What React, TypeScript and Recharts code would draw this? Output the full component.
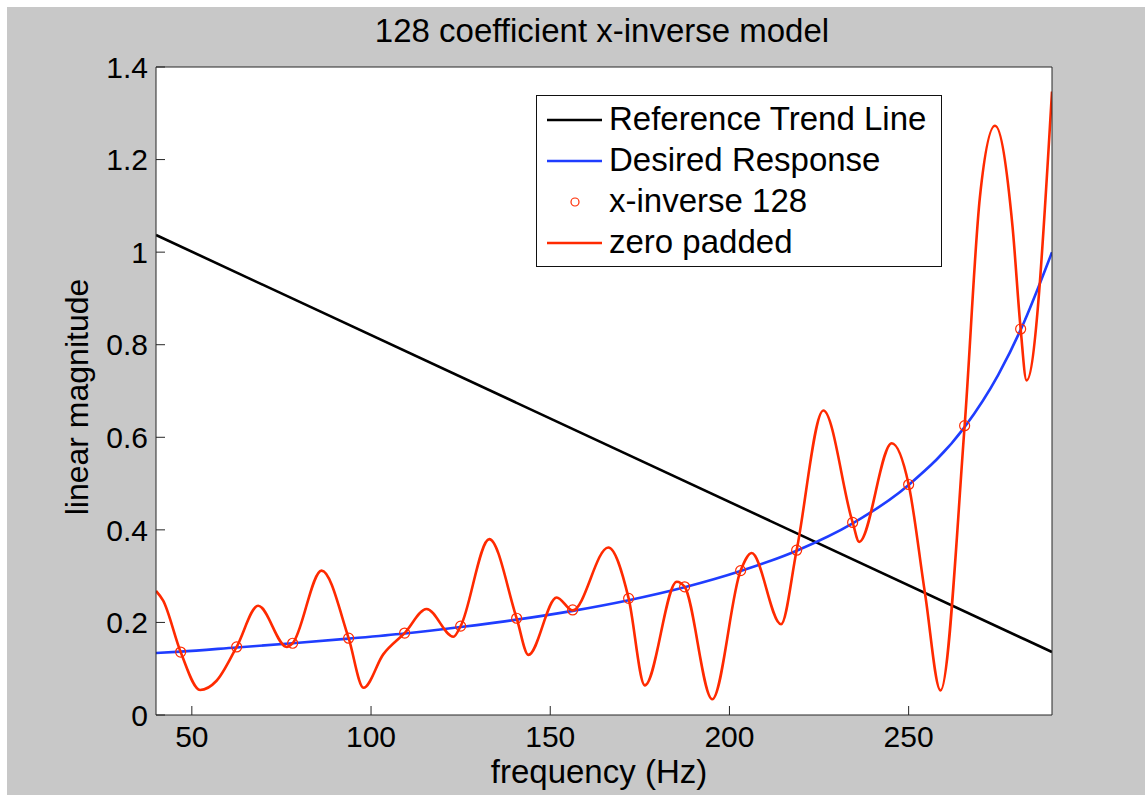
import React from 'react';
import { ComposedChart, Line, Scatter, XAxis, YAxis, CartesianGrid } from 'recharts';

const FONT = '"Liberation Sans", Arial, Helvetica, sans-serif';

const X_TICKS = [50, 100, 150, 200, 250];
const Y_TICKS = [0, 0.2, 0.4, 0.6, 0.8, 1, 1.2, 1.4];

// straight reference trend
const trendFreq = [40, 290];
const trendMag = [1.037, 0.136];

// desired (x-inverse) response
const desiredFreq = [40, 46.875, 62.5, 78.125, 93.75, 109.375, 125, 140.625, 156.25, 171.875, 187.5, 203.125, 218.75, 234.375, 250, 265.625, 275, 281.25, 290];
const desiredMag = [0.134, 0.137, 0.146, 0.155, 0.165, 0.176, 0.19, 0.206, 0.225, 0.248, 0.276, 0.311, 0.355, 0.414, 0.497, 0.622, 0.735, 0.832, 1.0];

// the 128 coefficient samples (circles)
const xinvFreq = [46.875, 62.5, 78.125, 93.75, 109.375, 125, 140.625, 156.25, 171.875, 187.5, 203.125, 218.75, 234.375, 250, 265.625, 281.25];
const xinvMag = [0.136, 0.147, 0.155, 0.166, 0.177, 0.192, 0.209, 0.227, 0.252, 0.277, 0.312, 0.356, 0.416, 0.498, 0.625, 0.834];

// zero padded interpolation
const paddedFreq = [40, 42, 46.875, 52.3, 56.9, 62.5, 68.5, 76.5, 78.125, 86.2, 93.75, 97.9, 103.4, 109.375, 115.5, 123, 125, 133, 140.625, 143.9, 151.8, 156.25, 166.2, 171.875, 176.4, 185.3, 187.5, 195.2, 203.125, 206.2, 214.4, 218.75, 226.2, 234.375, 236.2, 245.3, 250, 254.6, 258.9, 265.625, 269.9, 274.1, 279, 281.25, 282.9, 290];
const paddedMag = [0.268, 0.247, 0.136, 0.054, 0.074, 0.147, 0.236, 0.147, 0.155, 0.312, 0.166, 0.059, 0.131, 0.177, 0.229, 0.169, 0.192, 0.38, 0.209, 0.13, 0.254, 0.226, 0.362, 0.252, 0.064, 0.288, 0.277, 0.034, 0.312, 0.35, 0.196, 0.356, 0.658, 0.416, 0.374, 0.587, 0.498, 0.261, 0.053, 0.625, 1.12, 1.273, 1.054, 0.834, 0.723, 1.347];

const toPoints = (f: number[], v: number[]) => f.map((x, i) => ({ f: x, v: v[i] }));

const trend = toPoints(trendFreq, trendMag);
const desired = toPoints(desiredFreq, desiredMag);
const xinv = toPoints(xinvFreq, xinvMag);
const padded = toPoints(paddedFreq, paddedMag);

const BLACK = '#000000';
const BLUE = '#1f3dff';
const RED = '#ff2a00';
const AXIS = '#262626';

const SERIES = [
  { name: 'Reference Trend Line', color: BLACK, marker: false },
  { name: 'Desired Response', color: BLUE, marker: false },
  { name: 'x-inverse 128', color: RED, marker: true },
  { name: 'zero padded', color: RED, marker: false },
];

const W = 1138;
const H = 788;

const Circle = (p: any) => (
  <circle cx={p.cx} cy={p.cy} r={5} fill="none" stroke={RED} strokeWidth={1.2} />
);

const LegendBox = () => (
  <div style={{ position: 'absolute', left: 529, top: 88, width: 406, height: 172, background: '#fff', border: '1px solid #111', boxSizing: 'border-box' }}>
    <svg width={404} height={170} style={{ display: 'block' }}>
      {SERIES.map((s, i) => {
        const base = 34 + i * 41;
        return (
          <g key={s.name}>
            {s.marker ? (
              <circle cx={38} cy={base - 10} r={4} fill="none" stroke={s.color} strokeWidth={1.2} />
            ) : (
              <line x1={10} x2={65} y1={base - 10} y2={base - 10} stroke={s.color} strokeWidth={2.5} />
            )}
            <text x={72} y={base} fontSize={33} fontFamily={FONT} fill="#000">{s.name}</text>
          </g>
        );
      })}
    </svg>
  </div>
);

export default function App() {
  return (
    <div style={{ position: 'fixed', left: 7, top: 7, width: W + 12, height: H + 12, background: '#c8c8c8', fontFamily: FONT }}>
      <ComposedChart width={W} height={H} margin={{ top: 50, right: 83, bottom: 0, left: 0 }}>
        <CartesianGrid horizontal={false} vertical={false} fill="#ffffff" xAxisId="bottom" yAxisId="left" />
        <XAxis
          xAxisId="bottom"
          dataKey="f"
          type="number"
          domain={[40, 290]}
          ticks={X_TICKS}
          height={80}
          stroke={AXIS}
          tickSize={-9}
          tickMargin={20}
          tick={{ fill: '#000', fontSize: 30, fontFamily: FONT }}
          allowDataOverflow
        />
        <XAxis
          xAxisId="top"
          orientation="top"
          dataKey="f"
          type="number"
          domain={[40, 290]}
          ticks={X_TICKS}
          height={10}
          stroke={AXIS}
          tickSize={-9}
          tick={false}
          allowDataOverflow
        />
        <YAxis
          yAxisId="left"
          type="number"
          domain={[0, 1.4]}
          ticks={Y_TICKS}
          width={149}
          stroke={AXIS}
          tickSize={-9}
          tickMargin={17}
          tick={{ fill: '#000', fontSize: 30, fontFamily: FONT }}
          allowDataOverflow
        />
        <YAxis
          yAxisId="right"
          orientation="right"
          type="number"
          domain={[0, 1.4]}
          ticks={Y_TICKS}
          width={10}
          stroke={AXIS}
          tickSize={-9}
          tick={false}
          allowDataOverflow
        />
        <Line xAxisId="bottom" yAxisId="left" data={trend} dataKey="v" type="linear" stroke={BLACK} strokeWidth={2.6} dot={false} activeDot={false} isAnimationActive={false} />
        <Line xAxisId="bottom" yAxisId="left" data={desired} dataKey="v" type="monotone" stroke={BLUE} strokeWidth={2.6} dot={false} activeDot={false} isAnimationActive={false} />
        <Scatter xAxisId="bottom" yAxisId="left" data={xinv} dataKey="v" shape={Circle} isAnimationActive={false} />
        <Line xAxisId="bottom" yAxisId="left" data={padded} dataKey="v" type="monotone" stroke={RED} strokeWidth={2.6} dot={false} activeDot={false} isAnimationActive={false} />
      </ComposedChart>
      <svg width={W} height={H} style={{ position: 'absolute', left: 0, top: 0, pointerEvents: 'none' }}>
        <text x={595} y={35} textAnchor="middle" fontSize={33} fontFamily={FONT} fill="#000">128 coefficient x-inverse model</text>
        <text x={592} y={776} textAnchor="middle" fontSize={33} fontFamily={FONT} fill="#000">frequency (Hz)</text>
        <text x={81} y={390} textAnchor="middle" fontSize={32} fontFamily={FONT} fill="#000" transform="rotate(-90 81 390)">linear magnitude</text>
      </svg>
      <LegendBox />
    </div>
  );
}
